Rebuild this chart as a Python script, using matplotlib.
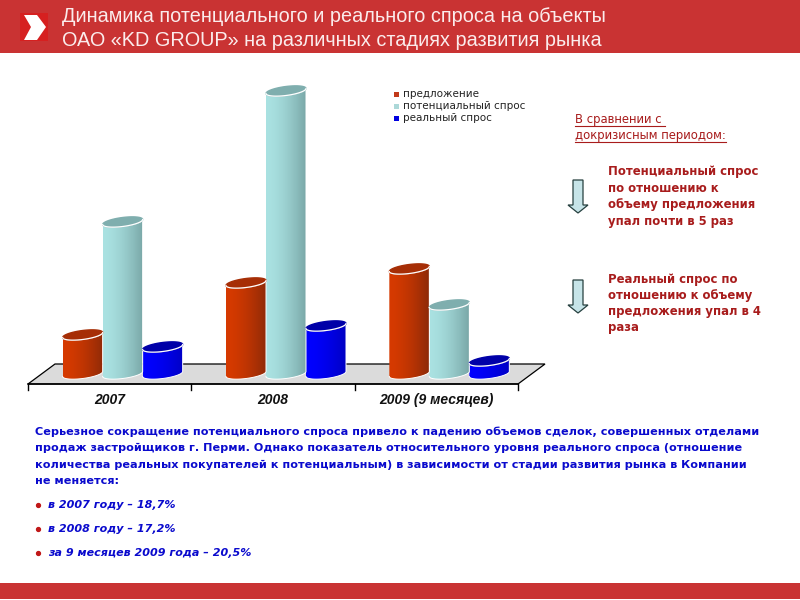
import numpy as np
import matplotlib
matplotlib.use('Agg')
import matplotlib.pyplot as plt
from matplotlib.colors import to_rgb
from matplotlib.patches import PathPatch, Polygon, Rectangle
from matplotlib.path import Path

# ============================================
# DATA (units = relative height)
# ============================================
years = ['2007', '2008', '2009 (9 месяцев)']
supply = [39, 91, 105]
potential = [152, 283, 69]
real = [27, 48, 13]
series_names = ['предложение', 'потенциальный спрос', 'реальный спрос']

title_lines = ['Динамика потенциального и реального спроса на объекты',
               'ОАО «KD GROUP» на различных стадиях развития рынка']
compare_lines = ['В сравнении с', 'докризисным периодом:']
note1_lines = ['Потенциальный спрос', 'по отношению к', 'объему предложения', 'упал почти в 5 раз']
note2_lines = ['Реальный спрос по', 'отношению к объему', 'предложения упал в 4', 'раза']
body_lines = ['Серьезное сокращение потенциального спроса привело к падению объемов сделок, совершенных отделами',
              'продаж застройщиков г. Перми. Однако показатель относительного уровня реального спроса (отношение',
              'количества реальных покупателей к потенциальным) в зависимости от стадии развития рынка в Компании',
              'не меняется:']
bullet_lines = ['в 2007 году – 18,7%', 'в 2008 году – 17,2%', 'за 9 месяцев 2009 года – 20,5%']

RED = '#C93333'
DARK_RED = '#A81C1C'
BLUE_TEXT = '#0A0ACD'

plt.rcParams['font.family'] = ['DejaVu Sans']
fig = plt.figure(figsize=(8, 6), dpi=100, facecolor='white')

# overlay in pixel coordinates for the slide decoration and text
page = fig.add_axes([0, 0, 1, 1], zorder=1)
page.set_xlim(0, 800)
page.set_ylim(600, 0)
page.axis('off')

# chart axes: x = category number, y = value (1 unit = 1 px)
left, right, bottom, top = 28, 518, 384, 60
ax = fig.add_axes([left / 800, 1 - bottom / 600, (right - left) / 800, (bottom - top) / 600], zorder=2)
ax.patch.set_alpha(0)
ax.set_xlim(-0.5, 2.5)
ax.set_ylim(-10, 314)
ax.axis('off')

px = 3 / (right - left)  # one pixel in x data units

# --- floor ---
depth_x, depth_y = 27 * px, 20
ax.add_patch(Polygon([(-0.5, -10), (2.5, -10), (2.5 + depth_x, -10 + depth_y), (-0.5 + depth_x, -10 + depth_y)],
                     closed=True, fc='#DBDBDB', ec='black', lw=0.9, clip_on=False, zorder=1))
ax.plot([-0.5, 2.5], [-10, -10], color='black', lw=1.1, clip_on=False, zorder=2)
for t in range(4):
    ax.plot([t - 0.5, t - 0.5], [-10, -16], color='black', lw=1, clip_on=False, zorder=2)


def cylinder(cx, h, c_left, c_right, c_top, zorder):
    a = 20 * px
    b = 4.5
    tilt = 2.5
    t = np.linspace(0, 2 * np.pi, 80)
    lower = np.linspace(np.pi, 2 * np.pi, 40)

    def rim(angle, y0):
        return cx + a * np.cos(angle), y0 + b * np.sin(angle) + tilt * np.cos(angle)

    # body: bottom front arc, then top front arc going back
    xb, yb = rim(lower, 0)
    xt, yt = rim(lower[::-1], h)
    verts = np.column_stack([np.r_[xb, xt], np.r_[yb, yt]])
    patch = PathPatch(Path(np.vstack([verts, verts[0]])), fc='none', ec='none', transform=ax.transData)
    ax.add_patch(patch)
    n = 64
    grad = (np.linspace(0, 1, n) ** 1.6)[None, :, None]
    cols = np.array(to_rgb(c_left))[None, None, :] * (1 - grad) + np.array(to_rgb(c_right))[None, None, :] * grad
    im = ax.imshow(cols, extent=[cx - a, cx + a, -15, h + 15], aspect='auto', zorder=zorder, origin='lower')
    im.set_clip_path(patch)
    # white edge, as in the original chart
    ax.plot(verts[:, 0], verts[:, 1], color='white', lw=0.7, zorder=zorder + 0.1, clip_on=False)
    # top face
    xe, ye = rim(t, h)
    ax.fill(xe, ye, color=c_top, zorder=zorder + 0.2, clip_on=False)
    xf, yf = rim(lower, h)
    ax.plot(xf, yf, color='white', lw=0.9, zorder=zorder + 0.3, clip_on=False)


styles = [(supply, '#D63A00', '#8E2A08', '#A62E06'),
          (potential, '#AAE2E2', '#7AA8A8', '#7FAEAE'),
          (real, '#0000FF', '#0000C4', '#0000A8')]
offsets = [-40 * px, 0, 40 * px]
shift = 13 * px
for i in range(len(years)):
    for (vals, c1, c2, c3), off in zip(styles, offsets):
        cylinder(i + off + shift, vals[i], c1, c2, c3, 3 + i)
ax.set_xlim(-0.5, 2.5)
ax.set_ylim(-10, 314)

for i, y in enumerate(years):
    ax.annotate(y, (i, -10), xytext=(0, -11.5), textcoords='offset points', ha='center', va='center',
                fontsize=10, fontweight='bold', fontstyle='italic', family='Liberation Sans',
                annotation_clip=False, color='#111111')

# --- header and footer ---
page.add_patch(Rectangle((0, 0), 800, 53, fc=RED, ec='none'))
page.add_patch(Rectangle((0, 583), 800, 16, fc=RED, ec='none'))
page.add_patch(Rectangle((20, 13), 28, 28, fc='#D62020', ec='none'))
page.add_patch(Polygon([(24, 15), (37, 15), (46, 27), (37, 40), (24, 40), (31, 27)], closed=True, fc='white', ec='none'))
for y, line in zip([16, 40], title_lines):
    page.text(62, y, line, color='#FBECEC', fontsize=14.35, family='Liberation Sans', va='center', ha='left')

# --- legend ---
legend_colors = ['#C23A1A', '#ACD8D8', '#0000E0']
for y, name, col in zip([94, 106, 118], series_names, legend_colors):
    page.add_patch(Rectangle((394, y - 2.5), 5, 5, fc=col, ec='none'))
    page.text(403, y, name, fontsize=7.5, family='DejaVu Sans', va='center', ha='left', color='#222222')

# --- right column ---
for y, line, x_end in zip([119, 135], compare_lines, [665, 726]):
    page.text(575, y, line, fontsize=8.35, color=DARK_RED, va='center', ha='left')
    page.plot([575, x_end], [y + 7, y + 7], color=DARK_RED, lw=0.8)
for y, line in zip([172, 188.5, 204.5, 221], note1_lines):
    page.text(608, y, line, fontsize=8.4, color=DARK_RED, fontweight='bold', va='center', ha='left')
for y, line in zip([279, 295, 311.5, 328], note2_lines):
    page.text(608, y, line, fontsize=8.4, color=DARK_RED, fontweight='bold', va='center', ha='left')

for y0 in [180, 280]:
    page.add_patch(Polygon([(573, y0), (583, y0), (583, y0 + 25), (588, y0 + 25), (578, y0 + 33),
                            (568, y0 + 25), (573, y0 + 25)], closed=True, fc='#C6E4E8', ec='#26403F', lw=0.9))

# --- body text ---
for y, line in zip([432, 448, 464.5, 481], body_lines):
    page.text(35, y, line, fontsize=8.15, color=BLUE_TEXT, fontweight='bold', va='center', ha='left')
for y, line in zip([505, 529, 553], bullet_lines):
    page.plot([38], [y], 'o', color='#C01818', ms=2.8)
    page.text(48, y, line, fontsize=8.05, color=BLUE_TEXT, fontweight='bold', fontstyle='italic', va='center', ha='left')

fig.savefig('out.png', dpi=100)
